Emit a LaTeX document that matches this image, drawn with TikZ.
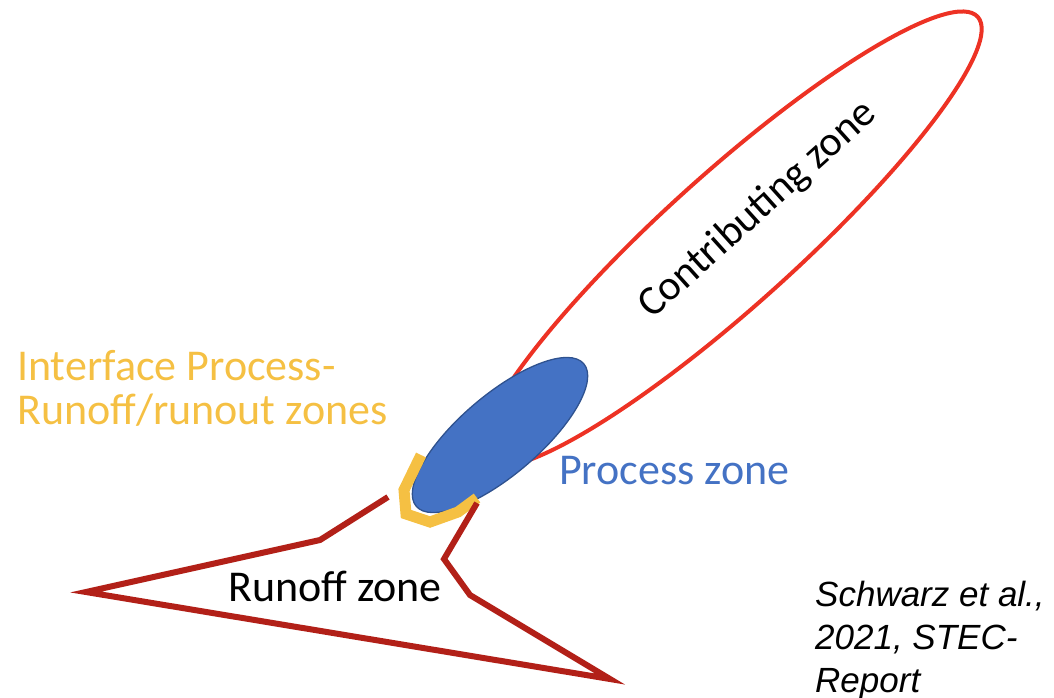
\documentclass[tikz,border=0pt]{standalone}
\usepackage{fontspec}
\setmainfont{Carlito}
\newfontfamily\citefont{Liberation Sans}
\usetikzlibrary{shapes.geometric}
\definecolor{contribred}{RGB}{237, 50, 36}
\definecolor{processblue}{RGB}{68, 114, 196}
\definecolor{processedge}{RGB}{47, 82, 143}
\definecolor{ifacegold}{RGB}{245, 192, 67}
\definecolor{runoffred}{RGB}{178, 32, 24}

\begin{document}
\begin{tikzpicture}[x=1pt, y=-1pt,
    zone/.style={ellipse, inner sep=0pt, outer sep=0pt},
    zonetext/.style={inner sep=0pt, font=\fontsize{44}{44}\selectfont}]
  \useasboundingbox (0,0) rectangle (1054,697);

  % contributing zone up the slope
  \node[zone, draw=contribred, line width=4pt, minimum width=664pt, minimum height=132pt, rotate=42] (contrib) at (731,239) {};
  \node[zonetext, font=\fontsize{42}{42}\selectfont, rotate=42] (contribtxt) at (758,210) {Contributing zone};

  % process zone sits on the lower end
  \node[zone, draw=processedge, fill=processblue, line width=1.3pt, minimum width=220pt, minimum height=80pt, rotate=40.4] (process) at (500,435) {};
  \node[zonetext, anchor=base west, text=processblue] (processtxt) at (559,484) {Process zone};

  % interface band round the foot of the process zone
  \draw[ifacegold, line width=11pt, miter limit=10] (421,455) -- (404,490) -- (406,514) -- (430,522) -- (458,512) -- (477,498);
  \node[zonetext, anchor=north west, align=left, text=ifacegold] (ifacetxt) at (17,350) {Interface Process-\\Runoff/runout zones};

  % runoff zone outline
  \draw[runoffred, line width=6pt, miter limit=10] (388,497) -- (320,540) -- (86,592) -- (610,679) -- (470,595) -- (444,559) -- (477,503);
  \node[zonetext, anchor=base west] (runofftxt) at (228,601) {Runoff zone};

  \node[inner sep=0pt, anchor=north west, align=left, font=\citefont\itshape\fontsize{35}{43}\selectfont] (cite) at (815,581) {Schwarz et al.,\\2021, STEC-\\Report};
\end{tikzpicture}
\end{document}
